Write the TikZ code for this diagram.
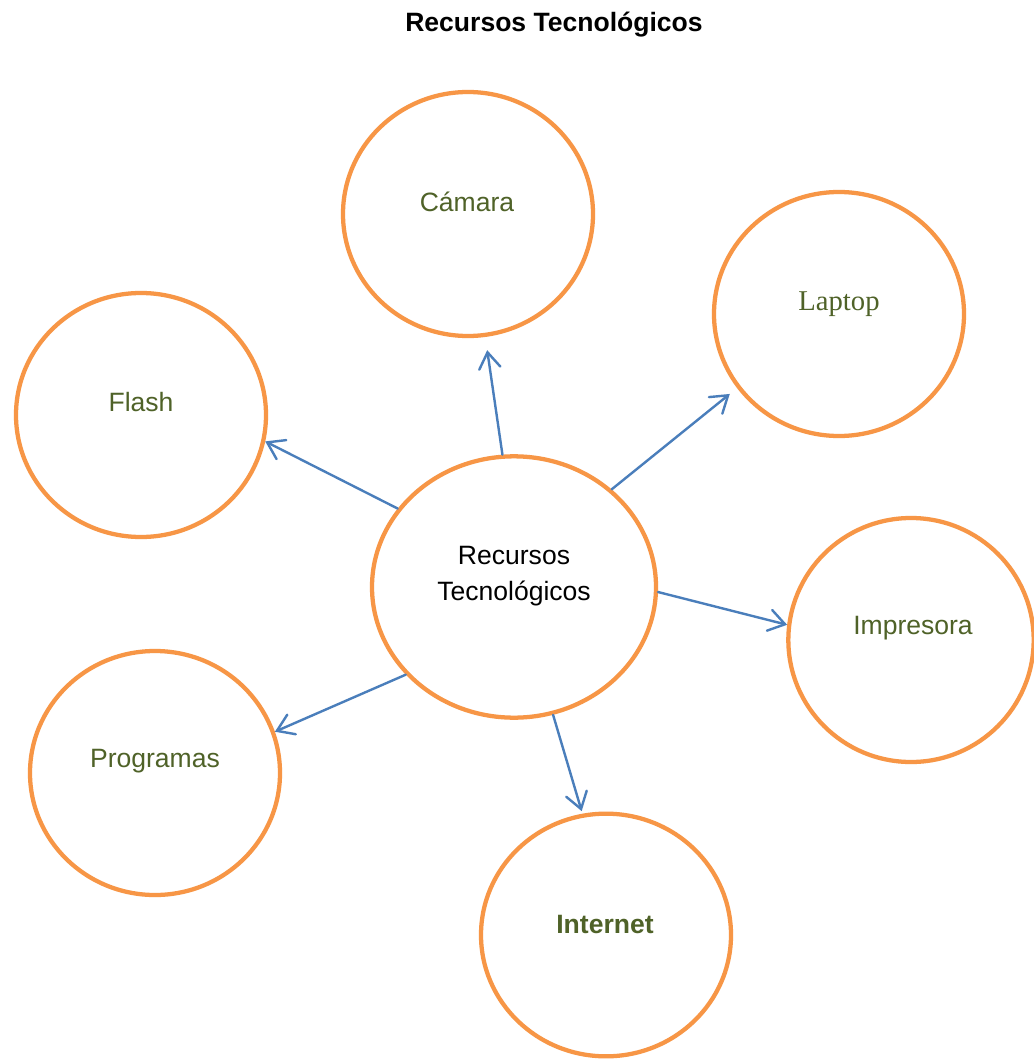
\documentclass[tikz,border=0pt]{standalone}
\usepackage{fontspec}
\setmainfont{Liberation Sans}
\newfontfamily\timesf{Liberation Serif}
\usetikzlibrary{arrows.meta,shapes.geometric}
\definecolor{orng}{HTML}{F79646}
\definecolor{blu}{HTML}{4A7EBB}
\definecolor{grn}{HTML}{4F6228}
\begin{document}
\begin{tikzpicture}[x=0.75pt,y=-0.75pt,
  ring/.style={ellipse,draw=orng,line width=3.2pt,minimum width=187.5pt,minimum height=183pt,inner sep=0pt},
  lbl/.style={text=grn,font=\fontsize{19.9}{24}\selectfont,inner sep=0pt},
  link/.style={draw=blu,line width=1.8pt,line cap=round,-{Straight Barb[length=12pt,width=16pt,line cap=round]}}]
\useasboundingbox[fill=white] (0,0) rectangle (1034,1059);
\clip (0,0) rectangle (1034,1059);

\node[font=\bfseries\fontsize{19.9}{24}\selectfont] (title) at (554,25) {Recursos Tecnológicos};

\node[ring] (cam) at (468,214) {};
\node[ring] (lap) at (839,314) {};
\node[ring] (fla) at (141,415) {};
\node[ring,minimum width=213pt,minimum height=196pt] (cen) at (514,587) {};
\node[ring,minimum width=184pt,minimum height=183pt] (imp) at (911,640) {};
\node[ring] (pro) at (155,773) {};
\node[ring,minimum height=182pt] (int) at (606,935) {};

\node[lbl] (camT) at (467,202) {Cámara};
\node[lbl,font=\timesf\fontsize{21.5}{24}\selectfont] (lapT) at (839,304) {Laptop};
\node[lbl] (flaT) at (141,402) {Flash};
\node[lbl] (impT) at (913,628) {Impresora};
\node[lbl] (proT) at (155,761) {Programas};
\node[lbl,font=\bfseries\fontsize{19.9}{24}\selectfont] (intT) at (605,924) {Internet};
\node[font=\fontsize{19.9}{27}\selectfont,align=center,inner sep=0pt] (cenT) at (514,576) {Recursos\\Tecnológicos};

\draw[link,shorten >=10pt] (cen.95.8) -- (cam.-82);
\draw[link,shorten >=7pt] (cen.45.6) -- (lap.216.6);
\draw[link] (cen.146.4) -- (fla.-12.9);
\draw[link] (cen.-2.8) -- (imp.173.7);
\draw[link] (cen.219.3) -- (pro.19.7);
\draw[link,shorten >=2pt] (cen.-73.4) -- (int.101.6);
\end{tikzpicture}
\end{document}
